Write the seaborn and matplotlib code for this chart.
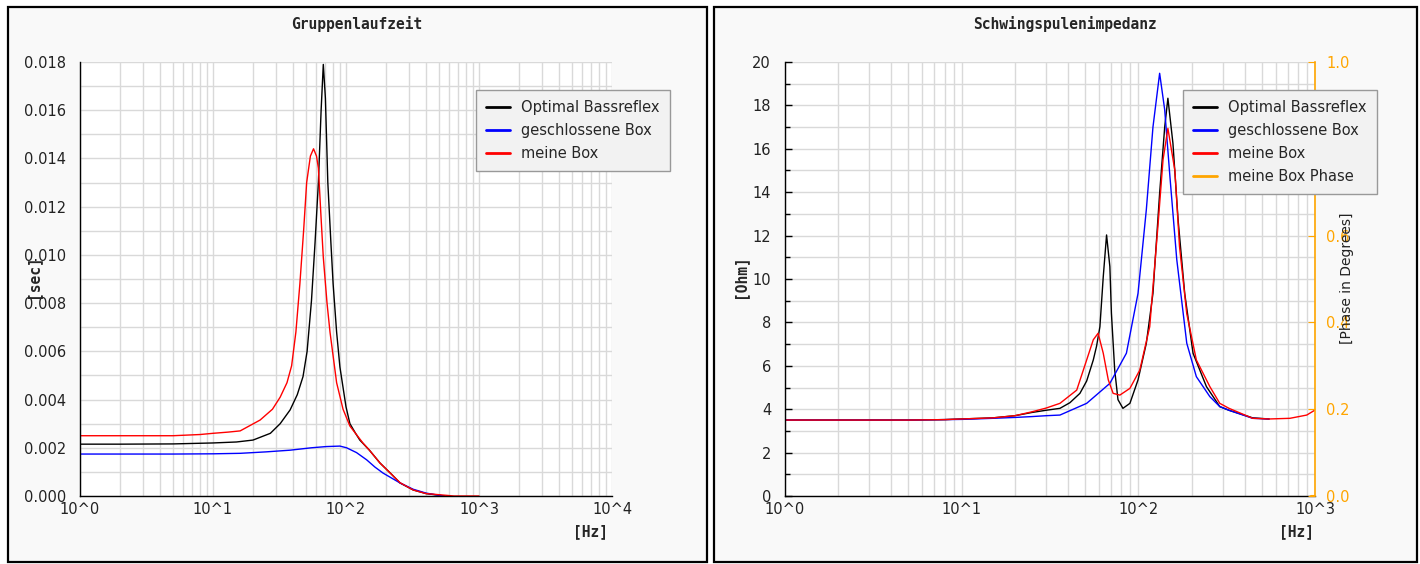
import numpy as np
import pandas as pd
import matplotlib
matplotlib.use('Agg')
import matplotlib.pyplot as plt
import matplotlib.ticker as mticker
from matplotlib.patches import Rectangle
import seaborn as sns

# --- Gruppenlaufzeit (group delay, seconds) ---
gd_bass_f = [1, 2, 5, 10, 15, 20, 27, 32, 38, 43, 47.5, 51, 55, 58.5, 62, 65, 67.5,
             70, 73, 77, 80, 85, 90, 100, 107, 118, 127, 150, 180, 220, 255, 320, 400, 550]
gd_bass_v = [0.00215, 0.00215, 0.00216, 0.0022, 0.00224, 0.00232, 0.0026, 0.003, 0.00357,
             0.0042, 0.00495, 0.006, 0.0081, 0.0105, 0.013, 0.016, 0.0179, 0.0165, 0.013,
             0.0105, 0.0088, 0.0068, 0.00535, 0.0037, 0.003, 0.0026, 0.00232, 0.0019,
             0.00137, 0.0009, 0.00054, 0.00025, 0.0001, 0.0]

gd_closed_f = [1, 5, 10, 16, 25, 38, 55, 71, 90, 101, 120, 143, 165, 190, 255, 320, 400, 540]
gd_closed_v = [0.00174, 0.00174, 0.00175, 0.00177, 0.00183, 0.0019, 0.002, 0.00205,
               0.00207, 0.002, 0.0018, 0.0015, 0.0012, 0.00095, 0.00054, 0.00028, 0.00012, 0.0]

gd_mine_f = [1, 5, 8, 10, 13, 16, 22.6, 28, 32, 36, 39, 42, 45, 48, 50.6, 54, 57, 60, 62,
             65, 67.5, 72, 75.8, 85, 95, 107, 134, 150, 180, 220, 255, 320, 400, 650, 1000]
gd_mine_v = [0.0025, 0.0025, 0.00255, 0.0026, 0.00265, 0.0027, 0.00315, 0.0036, 0.0041,
             0.0047, 0.0054, 0.0068, 0.0088, 0.011, 0.013, 0.0141, 0.0144, 0.0141, 0.0136,
             0.0115, 0.0099, 0.008, 0.0068, 0.0047, 0.0036, 0.0029, 0.0022, 0.0019,
             0.00137, 0.0009, 0.00055, 0.00025, 0.0001, 0.0, 0.0]

# --- Schwingspulenimpedanz (Ohm) ---
z_bass_f = [1, 5, 8, 10, 15, 20, 25, 30, 36, 41, 46.7, 51, 55.6, 58, 60.6, 63.3, 66.1, 69,
            70.4, 73.5, 76.7, 81.8, 89.6, 99.6, 111, 121, 132, 141, 147, 157, 168, 183,
            204, 243, 289, 326, 444, 550]
z_bass_v = [3.5, 3.5, 3.52, 3.55, 3.6, 3.7, 3.85, 3.95, 4.04, 4.3, 4.73, 5.3, 6.27, 6.9,
            7.8, 10.1, 12.03, 10.57, 8.43, 5.8, 4.44, 4.04, 4.27, 5.35, 7.04, 9.34, 13.95,
            17.0, 18.33, 16.25, 12.7, 9.34, 6.58, 5.04, 4.12, 3.95, 3.6, 3.55]

z_closed_f = [1, 5, 10, 15, 20, 25, 30, 36, 51, 69, 85.6, 99.6, 111, 121, 132, 141, 151,
              165, 188, 213, 254, 289, 326, 444, 550]
z_closed_v = [3.5, 3.5, 3.53, 3.58, 3.62, 3.66, 3.7, 3.73, 4.27, 5.19, 6.58, 9.34, 13.2,
              17.0, 19.48, 17.8, 14.7, 10.9, 7.04, 5.5, 4.58, 4.12, 3.95, 3.58, 3.55]

z_mine_f = [1, 5, 8, 10, 15, 20, 25, 30, 36, 44.8, 51, 55.6, 59.2, 63.3, 67.6, 72, 78.6,
            89.6, 101.9, 116, 129, 138, 147, 161, 171, 188, 213, 254, 289, 326, 444, 552,
            721, 898, 1000]
z_mine_v = [3.5, 3.5, 3.52, 3.55, 3.6, 3.7, 3.88, 4.05, 4.27, 4.88, 6.27, 7.2, 7.5, 6.58,
            5.35, 4.73, 4.65, 4.96, 5.8, 7.8, 12.4, 15.5, 16.94, 15.0, 11.5, 8.4, 6.27,
            5.04, 4.27, 4.04, 3.58, 3.55, 3.58, 3.73, 3.96]

phase_f = [950, 1000]
phase_v = [0.0, 0.0]

names = ['Optimal Bassreflex', 'geschlossene Box', 'meine Box', 'meine Box Phase']
colors = ['black', 'blue', 'red', 'orange']

sns.set_style('white')
plt.rcParams['font.family'] = ['DejaVu Sans']

W, H = 1420, 564
fig = plt.figure(figsize=(W / 100, H / 100), dpi=100)
fig.patch.set_facecolor('white')

def px(x0, x1, y0, y1):
    return [x0 / W, 1 - y1 / H, (x1 - x0) / W, (y1 - y0) / H]

# panel frames
for r in [px(8, 707, 7, 562), px(714, 1417, 7, 562)]:
    fig.patches.append(Rectangle((r[0], r[1]), r[2], r[3], transform=fig.transFigure,
                                 facecolor='#f9f9f9', edgecolor='black', lw=1.6, zorder=-1))

mono = dict(family='DejaVu Sans Mono', weight='bold', fontsize=10.5)
grid_c = '#d9d9d9'

def style_axis(ax, xmax):
    ax.set_facecolor('white')
    ax.set_xscale('log')
    ax.set_xlim(1, xmax)
    ax.xaxis.set_major_locator(mticker.LogLocator(base=10, numticks=10))
    ax.xaxis.set_minor_locator(mticker.LogLocator(base=10, subs=np.arange(2, 10), numticks=20))
    ax.xaxis.set_minor_formatter(mticker.NullFormatter())
    ax.xaxis.set_major_formatter(mticker.FuncFormatter(lambda v, p: '10^%d' % round(np.log10(v))))
    ax.grid(True, which='both', color=grid_c, lw=1)
    ax.set_axisbelow(True)
    for s in ['top', 'right']:
        ax.spines[s].set_visible(False)
    for s in ['left', 'bottom']:
        ax.spines[s].set_color('black')
        ax.spines[s].set_linewidth(1)
    ax.tick_params(which='major', direction='in', length=5, width=1, color='black',
                   labelsize=10.5, labelcolor='#222222')
    ax.tick_params(which='minor', direction='in', length=3.5, width=1, color='black')
    ax.tick_params(axis='y', pad=10)
    ax.tick_params(axis='x', pad=4)
    ax.set_xlabel('')
    ax.set_ylabel('')

def make_legend(handles, labels, x_px):
    leg = fig.legend(handles, labels, loc='upper left', bbox_to_anchor=(x_px / W, 1 - 90 / H),
                     borderaxespad=0, fontsize=10.5, frameon=True, fancybox=False,
                     handlelength=1.6, borderpad=0.7, labelspacing=0.55)
    for lh in leg.get_lines():
        lh.set_linewidth(2)
    leg.get_frame().set_facecolor('#f2f2f2')
    leg.get_frame().set_edgecolor('#999999')
    leg.get_frame().set_alpha(1)
    leg.set_zorder(10)
    return leg

# ---------- left: Gruppenlaufzeit ----------
ax1 = fig.add_axes(px(80, 612, 62, 496))
for f, v, n, c in zip([gd_bass_f, gd_closed_f, gd_mine_f],
                      [gd_bass_v, gd_closed_v, gd_mine_v], names[:3], colors[:3]):
    sns.lineplot(x=f, y=v, ax=ax1, color=c, lw=1, sort=False, estimator=None, label=n)
style_axis(ax1, 1e4)
ax1.set_ylim(0, 0.018)
ax1.yaxis.set_major_locator(mticker.MultipleLocator(0.002))
ax1.yaxis.set_minor_locator(mticker.MultipleLocator(0.001))
ax1.yaxis.set_major_formatter(mticker.FormatStrFormatter('%.3f'))
h1, l1 = ax1.get_legend_handles_labels()
ax1.get_legend().remove()
make_legend(h1, l1, 476)

fig.text(357 / W, 1 - 24 / H, 'Gruppenlaufzeit', ha='center', va='center', **mono)
fig.text(33 / W, 1 - 276 / H, '[sec]', ha='center', va='center', rotation=90, **mono)
fig.text(590 / W, 1 - 532 / H, '[Hz]', ha='center', va='center', **mono)

# ---------- right: Schwingspulenimpedanz ----------
ax2 = fig.add_axes(px(785, 1315, 62, 496))
for f, v, n, c in zip([z_bass_f, z_closed_f, z_mine_f],
                      [z_bass_v, z_closed_v, z_mine_v], names[:3], colors[:3]):
    sns.lineplot(x=f, y=v, ax=ax2, color=c, lw=1, sort=False, estimator=None, label=n)
h2, l2 = ax2.get_legend_handles_labels()
ax2.get_legend().remove()
ax2.set_xscale('log')

ax3 = ax2.twinx()
sns.lineplot(x=phase_f, y=phase_v, ax=ax3, color=colors[3], lw=1.5, sort=False,
             estimator=None, label=names[3])
h3, l3 = ax3.get_legend_handles_labels()
ax3.get_legend().remove()

style_axis(ax2, 1e3)
ax2.set_ylim(0, 20)
ax2.yaxis.set_major_locator(mticker.MultipleLocator(2))
ax2.yaxis.set_minor_locator(mticker.MultipleLocator(1))
ax2.yaxis.set_major_formatter(mticker.FormatStrFormatter('%d'))

ax3.set_ylim(0, 1)
ax3.patch.set_visible(False)
ax3.grid(False)
ax3.set_ylabel('')
ax3.set_xlabel('')
ax3.tick_params(axis='x', which='both', bottom=False, top=False,
                labelbottom=False, labeltop=False)
ax3.yaxis.set_major_locator(mticker.MultipleLocator(0.2))
ax3.yaxis.set_minor_locator(mticker.NullLocator())
ax3.yaxis.set_major_formatter(mticker.FormatStrFormatter('%.1f'))
for s in ['top', 'left', 'bottom']:
    ax3.spines[s].set_visible(False)
ax3.spines['right'].set_visible(True)
ax3.spines['right'].set_color('orange')
ax3.spines['right'].set_linewidth(1.2)
ax3.tick_params(axis='y', which='major', direction='in', length=5, color='orange',
                labelcolor='orange', labelsize=10.5, pad=8)

make_legend(h2 + h3, l2 + l3, 1183)

fig.text(1065 / W, 1 - 24 / H, 'Schwingspulenimpedanz', ha='center', va='center', **mono)
fig.text(740 / W, 1 - 276 / H, '[Ohm]', ha='center', va='center', rotation=90, **mono)
fig.text(1347 / W, 1 - 278 / H, '[Phase in Degrees]', ha='center', va='center',
         rotation=90, fontsize=10, color='#222222')
fig.text(1297 / W, 1 - 532 / H, '[Hz]', ha='center', va='center', **mono)

fig.savefig('out.png', dpi=100, facecolor=fig.get_facecolor())
